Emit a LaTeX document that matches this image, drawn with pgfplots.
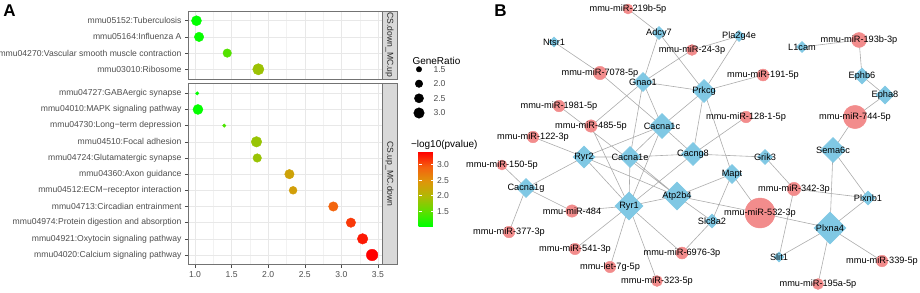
\documentclass[border=0pt]{standalone}
\usepackage{fontspec}
\setmainfont{Liberation Sans}
\usepackage{pgfplots}
\usepackage{pgfplotstable}
\pgfplotsset{compat=1.18}

\definecolor{mirc}{RGB}{242,140,140}
\definecolor{genec}{RGB}{128,200,228}
\definecolor{edgec}{RGB}{172,172,172}
\definecolor{tickc}{RGB}{77,77,77}

\newcommand{\axfont}{\fontsize{8.6}{9}\selectfont}
\newcommand{\labfont}{\fontsize{9.2}{10}\selectfont}

\pgfplotsset{
  colormap={gr}{rgb255(0cm)=(0,255,0) rgb255(2cm)=(95,222,0) rgb255(4cm)=(175,185,5) rgb255(6cm)=(222,150,10) rgb255(8cm)=(245,95,15) rgb255(10cm)=(255,0,0)},
  facet/.style={scale only axis, width=194pt, xmin=0.904, xmax=3.555, ymin=0.4, y dir=reverse,
    xtick={1,1.5,2,2.5,3,3.5}, minor x tick num=1, grid=both,
    major grid style={black!9, line width=0.5pt}, minor grid style={black!5, line width=0.3pt},
    axis line style={black!55, line width=0.6pt}, tick align=outside, tick pos=left,
    major tick length=3pt, minor tick length=0pt, tick style={black!70, line width=0.5pt},
    ticklabel style={font=\axfont, text=tickc}, /pgf/number format/assume math mode=true,
    colormap name=gr, point meta min=1.02, point meta max=3.42, clip=false},
  dots/.style={scatter, only marks, mark=*, point meta=x,
    scatter/use mapped color={draw=mapped color, fill=mapped color},
    visualization depends on={sqrt(13.6*\thisrow{gr}-13) \as \rad},
    scatter/@pre marker code/.append style={/tikz/mark size=\rad}},
  netlabels/.style={only marks, mark=*, mark size=0pt, nodes near coords, point meta=explicit symbolic,
    every node near coord/.append style={anchor=center, text=black, font=\labfont, inner sep=0pt}}
}

% Panel A data: y = row, x = -log10(pvalue), gr = GeneRatio
\pgfplotstableread{
y x gr
1 1.02 2.8
2 1.055 2.6
3 1.44 2.3
4 1.865 3.3
}\topdata
\pgfplotstableread{
y x gr
1 1.03 1.17
2 1.04 2.8
3 1.40 1.17
4 1.84 3.0
5 1.85 2.3
6 2.29 2.6
7 2.34 2.1
8 2.89 2.6
9 3.13 2.6
10 3.29 3.0
11 3.42 3.4
}\botdata
\pgfplotstableread{
x y gr
419 69.3 1.5
419 83.7 2.0
419 98.3 2.5
419 113 3.0
}\sizeleg

% Panel B nodes
\pgfplotstableread{
x y s label
628 9 5 mmu-miR-219b-5p
692 50 5.5 mmu-miR-24-3p
859 40 7.5 mmu-miR-193b-3p
600 73 6.7 mmu-miR-7078-5p
763 75 6 mmu-miR-191-5p
559 106 5.8 mmu-miR-1981-5p
591 126 6.2 mmu-miR-485-5p
746 117 5.8 mmu-miR-128-1-5p
855 117 11.7 mmu-miR-744-5p
533 137 5.8 mmu-miR-122-3p
502 165 5 mmu-miR-150-5p
794 189 6.7 mmu-miR-342-3p
760 213 15 mmu-miR-532-3p
572 211 6.2 mmu-miR-484
509 232 5.8 mmu-miR-377-3p
575 249 5.7 mmu-miR-541-3p
682 253 6 mmu-miR-6976-3p
882 261 5.8 mmu-miR-339-5p
610 267 5.7 mmu-let-7g-5p
657 281 5.5 mmu-miR-323-5p
818 284 5.5 mmu-miR-195a-5p
}\mirs
\pgfplotstableread{
x y s label
659 33 6.5 Adcy7
554 42 5 Ntsr1
739 36 5.5 Pla2g4e
802 47 5.5 L1cam
643 82 9.5 Gnao1
704 91 11.5 Prkcg
862 76 8 Ephb6
885 95 9 Epha8
662 126 12.5 Cacna1c
584 157 11 Ryr2
630 157 10.5 Cacna1e
693 154 11.5 Cacng8
765 157 7.5 Grik3
833 150 12.5 Sema6c
526 188 9.5 Cacna1g
629 206 14 Ryr1
677 196 14 Atp2b4
732 174 9.5 Mapt
868 198 7 Plxnb1
712 221 7 Slc8a2
830 228 16 Plxna4
779 257 5 Slit1
}\genes

\begin{document}
\begin{tikzpicture}
\useasboundingbox (0,0) rectangle (920pt,292pt);

% ---------- Panel A, top facet ----------
\begin{axis}[facet, at={(188pt,213pt)}, anchor=south west, height=68pt, ymax=4.6,
  ytick={1,2,3,4},
  yticklabels={mmu05152:Tuberculosis,mmu05164:Influenza A,mmu04270:Vascular smooth muscle contraction,mmu03010:Ribosome},
  xticklabel style={opacity=0}, xtick style={draw=none}]
\addplot[dots] table[x=x,y=y] {\topdata};
\draw[black!55, line width=0.6pt, fill=black!15] (rel axis cs:1,0) rectangle ([xshift=15pt]rel axis cs:1,1);
\node[rotate=-90, font=\axfont, text=black!85] at ([xshift=7.5pt]rel axis cs:1,0.5) {CS.down\_MC.up};
\end{axis}

% ---------- Panel A, bottom facet ----------
\begin{axis}[facet, at={(188pt,27.3pt)}, anchor=south west, height=181.1pt, ymax=11.6,
  ytick={1,2,3,4,5,6,7,8,9,10,11},
  yticklabels={mmu04727:GABAergic synapse,mmu04010:MAPK signaling pathway,mmu04730:Long−term depression,mmu04510:Focal adhesion,mmu04724:Glutamatergic synapse,mmu04360:Axon guidance,mmu04512:ECM−receptor interaction,mmu04713:Circadian entrainment,mmu04974:Protein digestion and absorption,mmu04921:Oxytocin signaling pathway,mmu04020:Calcium signaling pathway},
  xticklabel style={/pgf/number format/.cd, fixed, fixed zerofill, precision=1},
  colorbar,
  colorbar style={at={(parent axis.north east)}, anchor=north west, xshift=28pt, yshift=-68.1pt,
    scale only axis, width=15pt, height=74.3pt,
    ytick={1.5,2,2.5,3}, yticklabels={1.5,2.0,2.5,3.0},
    axis line style={draw=none}, ytick pos=both, yticklabel pos=right,
    tick align=inside, major tick length=3pt, tick style={draw=white, line width=0.6pt},
    yticklabel style={font=\axfont, text=tickc}}]
\addplot[dots] table[x=x,y=y] {\botdata};
\draw[black!55, line width=0.6pt, fill=black!15] (rel axis cs:1,0) rectangle ([xshift=15pt]rel axis cs:1,1);
\node[rotate=-90, font=\axfont, text=black!85] at ([xshift=7.5pt]rel axis cs:1,0.5) {CS.up\_MC.down};
\end{axis}

% ---------- Canvas: legends and Panel B network ----------
\begin{axis}[at={(0pt,0pt)}, anchor=south west, scale only axis, width=920pt, height=292pt,
  xmin=0, xmax=920, ymin=0, ymax=292, y dir=reverse, hide axis, clip=false]

\node[font=\bfseries\fontsize{17}{17}\selectfont] at (axis cs:9.5,11) {A};
\node[font=\bfseries\fontsize{17}{17}\selectfont] at (axis cs:500.5,11) {B};

% size legend
\node[anchor=west, font=\fontsize{10}{11}\selectfont] at (axis cs:409,61) {GeneRatio};
\addplot[scatter, only marks, mark=*, scatter/use mapped color={draw=black, fill=black},
  visualization depends on={sqrt(13.6*\thisrow{gr}-13) \as \rad},
  scatter/@pre marker code/.append style={/tikz/mark size=\rad}] table[x=x,y=y] {\sizeleg};
\node[anchor=west, font=\axfont, text=tickc] at (axis cs:430,69.6) {1.5};
\node[anchor=west, font=\axfont, text=tickc] at (axis cs:430,83.9) {2.0};
\node[anchor=west, font=\axfont, text=tickc] at (axis cs:430,98.4) {2.5};
\node[anchor=west, font=\axfont, text=tickc] at (axis cs:430,113) {3.0};
\node[anchor=west, font=\fontsize{10}{11}\selectfont] at (axis cs:407.5,144.5) {−log10(pvalue)};

% network edges
\addplot[edgec, line width=0.6pt, unbounded coords=jump, mark=none] coordinates {
(628,9) (659,33) (nan,nan)
(659,33) (643,82) (nan,nan)
(659,33) (704,91) (nan,nan)
(554,42) (600,73) (nan,nan)
(600,73) (662,126) (nan,nan)
(692,50) (643,82) (nan,nan)
(692,50) (739,36) (nan,nan)
(739,36) (704,91) (nan,nan)
(643,82) (704,91) (nan,nan)
(704,91) (763,75) (nan,nan)
(704,91) (662,126) (nan,nan)
(704,91) (693,154) (nan,nan)
(704,91) (732,174) (nan,nan)
(802,47) (859,40) (nan,nan)
(859,40) (862,76) (nan,nan)
(862,76) (885,95) (nan,nan)
(885,95) (855,117) (nan,nan)
(855,117) (833,150) (nan,nan)
(643,82) (662,126) (nan,nan)
(643,82) (630,157) (nan,nan)
(643,82) (591,126) (nan,nan)
(584,157) (533,137) (nan,nan)
(584,157) (662,126) (nan,nan)
(584,157) (630,157) (nan,nan)
(584,157) (526,188) (nan,nan)
(584,157) (629,206) (nan,nan)
(584,157) (677,196) (nan,nan)
(559,106) (677,196) (nan,nan)
(591,126) (629,206) (nan,nan)
(502,165) (526,188) (nan,nan)
(526,188) (572,211) (nan,nan)
(526,188) (509,232) (nan,nan)
(572,211) (629,206) (nan,nan)
(629,206) (630,157) (nan,nan)
(629,206) (662,126) (nan,nan)
(629,206) (693,154) (nan,nan)
(629,206) (677,196) (nan,nan)
(629,206) (575,249) (nan,nan)
(629,206) (610,267) (nan,nan)
(629,206) (657,281) (nan,nan)
(629,206) (682,253) (nan,nan)
(630,157) (693,154) (nan,nan)
(630,157) (662,126) (nan,nan)
(630,157) (677,196) (nan,nan)
(662,126) (693,154) (nan,nan)
(693,154) (765,157) (nan,nan)
(693,154) (746,117) (nan,nan)
(677,196) (732,174) (nan,nan)
(677,196) (712,221) (nan,nan)
(677,196) (760,213) (nan,nan)
(732,174) (760,213) (nan,nan)
(732,174) (712,221) (nan,nan)
(712,221) (682,253) (nan,nan)
(760,213) (830,228) (nan,nan)
(765,157) (794,189) (nan,nan)
(794,189) (868,198) (nan,nan)
(794,189) (779,257) (nan,nan)
(833,150) (868,198) (nan,nan)
(833,150) (830,228) (nan,nan)
(830,228) (868,198) (nan,nan)
(830,228) (779,257) (nan,nan)
(830,228) (882,261) (nan,nan)
(830,228) (818,284)
};

% miRNA nodes
\addplot[scatter, only marks, mark=*, scatter/use mapped color={draw=mirc, fill=mirc},
  visualization depends on={\thisrow{s} \as \msize},
  scatter/@pre marker code/.append style={/tikz/mark size=\msize}]
  table[x=x,y=y] {\mirs};
% gene nodes
\addplot[scatter, only marks, mark=square*, mark options={rotate=45},
  scatter/use mapped color={draw=genec, fill=genec},
  visualization depends on={\thisrow{s}/1.414 \as \msize},
  scatter/@pre marker code/.append style={/tikz/mark size=\msize}]
  table[x=x,y=y] {\genes};
% labels
\addplot[netlabels] table[x=x,y=y,meta=label] {\mirs};
\addplot[netlabels] table[x=x,y=y,meta=label] {\genes};
\end{axis}
\end{tikzpicture}
\end{document}
